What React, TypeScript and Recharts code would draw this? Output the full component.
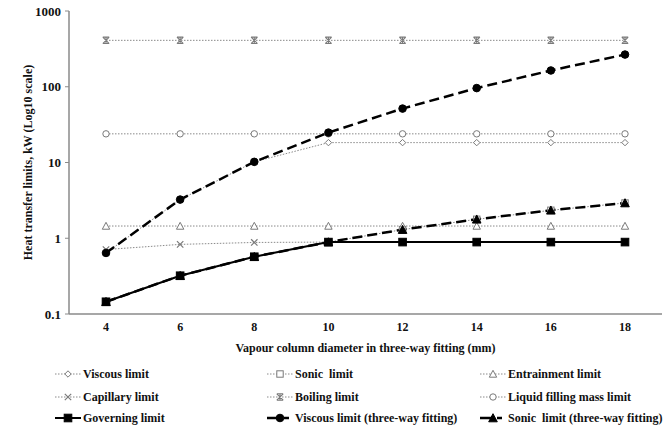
import { LineChart, Line, XAxis, YAxis, Legend } from 'recharts';

const diameters = [4, 6, 8, 10, 12, 14, 16, 18];
const viscousLimit = [0.64, 3.24, 10.2, 18.3, 18.3, 18.3, 18.3, 18.3];
const sonicLimit = [0.145, 0.32, 0.57, 0.89, 1.3, 1.78, 2.34, 2.92];
const entrainmentLimit = [1.45, 1.45, 1.45, 1.45, 1.45, 1.45, 1.45, 1.45];
const capillaryLimit = [0.71, 0.83, 0.88, 0.89, 0.89, 0.89, 0.89, 0.89];
const boilingLimit = [410, 410, 410, 410, 410, 410, 410, 410];
const liquidFillingLimit = [23.9, 23.9, 23.9, 23.9, 23.9, 23.9, 23.9, 23.9];
const governingLimit = [0.145, 0.32, 0.57, 0.89, 0.89, 0.89, 0.89, 0.89];
const viscousThreeWay = [0.64, 3.24, 10.2, 24.8, 51.5, 96, 164, 266];
const sonicThreeWay = [0.145, 0.32, 0.57, 0.89, 1.3, 1.78, 2.34, 2.92];
const yTicks = [0.1, 1, 10, 100, 1000];

const chartData = diameters.map((d, i) => ({
  d,
  viscous: viscousLimit[i],
  sonic: sonicLimit[i],
  entrainment: entrainmentLimit[i],
  capillary: capillaryLimit[i],
  boiling: boilingLimit[i],
  liquid: liquidFillingLimit[i],
  governing: governingLimit[i],
  viscous3: viscousThreeWay[i],
  sonic3: sonicThreeWay[i],
}));

const FONT = "'Liberation Serif', 'Times New Roman', serif";
const GREY = '#8a8a8a';
const MARK = '#7a7a7a';

// legend order (row by row) and also drawing order
const series = [
  { key: 'viscous', name: 'Viscous limit', shape: 'diamond', kind: 'dotted' },
  { key: 'sonic', name: 'Sonic  limit', shape: 'square', kind: 'dotted' },
  { key: 'entrainment', name: 'Entrainment limit', shape: 'triangle', kind: 'dotted' },
  { key: 'capillary', name: 'Capillary limit', shape: 'x', kind: 'dotted' },
  { key: 'boiling', name: 'Boiling limit', shape: 'star', kind: 'dotted' },
  { key: 'liquid', name: 'Liquid filling mass limit', shape: 'circle', kind: 'dotted' },
  { key: 'governing', name: 'Governing limit', shape: 'square', kind: 'solid' },
  { key: 'viscous3', name: 'Viscous limit (three-way fitting)', shape: 'circle', kind: 'dashed' },
  { key: 'sonic3', name: 'Sonic  limit (three-way fitting)', shape: 'triangle', kind: 'dashed' },
];

const lineStyle = (kind) => {
  if (kind === 'dotted') return { stroke: GREY, strokeWidth: 1, strokeDasharray: '1.5 1.5' };
  if (kind === 'solid') return { stroke: '#000', strokeWidth: 2 };
  return { stroke: '#000', strokeWidth: 2.5, strokeDasharray: '10 5' };
};

function marker(shape, cx, cy, filled, key) {
  const fill = filled ? '#000' : '#fff';
  const stroke = filled ? '#000' : MARK;
  const s = filled ? 3.8 : 3.2;
  const common = { fill, stroke, strokeWidth: 1 };
  switch (shape) {
    case 'circle':
      return <circle key={key} cx={cx} cy={cy} r={s} {...common} />;
    case 'square':
      return <rect key={key} x={cx - s} y={cy - s} width={2 * s} height={2 * s} {...common} />;
    case 'diamond':
      return (
        <polygon key={key} points={`${cx},${cy - s} ${cx + s},${cy} ${cx},${cy + s} ${cx - s},${cy}`} {...common} />
      );
    case 'triangle':
      return (
        <polygon
          key={key}
          points={`${cx},${cy - s - 0.5} ${cx + s + 0.5},${cy + s} ${cx - s - 0.5},${cy + s}`}
          {...common}
        />
      );
    case 'x':
      return (
        <path key={key} d={`M${cx - s},${cy - s}L${cx + s},${cy + s}M${cx - s},${cy + s}L${cx + s},${cy - s}`} stroke={MARK} strokeWidth={1.2} fill="none" />
      );
    case 'star':
      return (
        <path
          key={key}
          d={`M${cx - s},${cy - s}L${cx + s},${cy + s}M${cx - s},${cy + s}L${cx + s},${cy - s}M${cx},${cy - s}L${cx},${cy + s}M${cx - s},${cy - s}L${cx + s},${cy - s}M${cx - s},${cy + s}L${cx + s},${cy + s}`}
          stroke={MARK}
          strokeWidth={1.1}
          fill="none"
        />
      );
    default:
      return null;
  }
}

const makeDot = (s) => (p) => marker(s.shape, p.cx, p.cy, s.kind !== 'dotted', `${s.key}-${p.index}`);

function YTitle(props) {
  const vb = props.viewBox || { x: 0, y: 0, height: 0 };
  const x = vb.x + 28;
  const y = vb.y + vb.height / 2;
  return (
    <text x={x} y={y} transform={`rotate(-90 ${x} ${y})`} textAnchor="middle" dominantBaseline="central"
      fontFamily={FONT} fontWeight="bold" fontSize={12} fill="#111">
      Heat transfer limits, kW (Log10 scale)
    </text>
  );
}

function XTitle(props) {
  const vb = props.viewBox || { x: 0, y: 0, width: 0 };
  return (
    <text x={vb.x + vb.width / 2} y={vb.y + 34} textAnchor="middle" dominantBaseline="central"
      fontFamily={FONT} fontWeight="bold" fontSize={12} fill="#111">
      Vapour column diameter in three-way fitting (mm)
    </text>
  );
}

const colIcon = [55, 267, 480];
const rowMid = [9, 32, 53];

function LegendBox() {
  return (
    <div style={{ position: 'relative', width: 670, height: 64, fontFamily: FONT, fontWeight: 'bold', fontSize: 12, color: '#111' }}>
      {series.map((s, i) => {
        const col = i % 3;
        const row = Math.floor(i / 3);
        const st = lineStyle(s.kind);
        return (
          <div key={s.key} style={{ position: 'absolute', left: colIcon[col], top: rowMid[row] - 8, height: 16, display: 'flex', alignItems: 'center', whiteSpace: 'pre' }}>
            <svg width={26} height={12} style={{ marginRight: 2 }}>
              <line x1={0} y1={6} x2={26} y2={6} {...st} strokeDasharray={s.kind === 'dashed' ? '14 3 5' : st.strokeDasharray} />
              {marker(s.shape, 13, 6, s.kind !== 'dotted', 'm')}
            </svg>
            <span>{s.name}</span>
          </div>
        );
      })}
    </div>
  );
}

export default function App() {
  return (
    <div style={{ width: 670, height: 429, background: '#fff' }}>
      <style>{'body{margin:0}'}</style>
      <LineChart width={670} height={429} data={chartData} margin={{ top: 11, right: 8, left: 0, bottom: 67 }}>
        <XAxis
          dataKey="d"
          padding={{ left: 37, right: 37 }}
          tickLine={false}
          axisLine={{ stroke: GREY, strokeWidth: 1.5 }}
          height={48}
          tick={{ fontFamily: FONT, fontWeight: 'bold', fontSize: 12, fill: '#111' }}
          label={<XTitle />}
        />
        <XAxis xAxisId="top" dataKey="d" orientation="top" height={0} tick={false} tickLine={false}
          axisLine={{ stroke: GREY, strokeWidth: 1.5 }} padding={{ left: 37, right: 37 }} />
        <YAxis
          scale="log"
          type="number"
          domain={[0.1, 1000]}
          ticks={yTicks}
          allowDataOverflow
          width={69}
          tickSize={4}
          tickMargin={4}
          tickLine={{ stroke: GREY }}
          axisLine={{ stroke: GREY, strokeWidth: 1.5 }}
          tickFormatter={(v) => String(v)}
          tick={{ fontFamily: FONT, fontWeight: 'bold', fontSize: 13, fill: '#111' }}
          label={<YTitle />}
        />
        <YAxis yAxisId="right" orientation="right" type="number" domain={[0, 1]} width={0} tick={false}
          tickLine={false} axisLine={{ stroke: GREY, strokeWidth: 1.5 }} />
        {series.map((s) => (
          <Line
            key={s.key}
            dataKey={s.key}
            name={s.name}
            type="linear"
            {...lineStyle(s.kind)}
            dot={makeDot(s)}
            activeDot={false}
            isAnimationActive={false}
          />
        ))}
        <Legend
          content={<LegendBox />}
          layout="horizontal"
          verticalAlign="middle"
          align="center"
          wrapperStyle={{ top: 365, left: 0, width: 670, height: 64 }}
        />
      </LineChart>
    </div>
  );
}
